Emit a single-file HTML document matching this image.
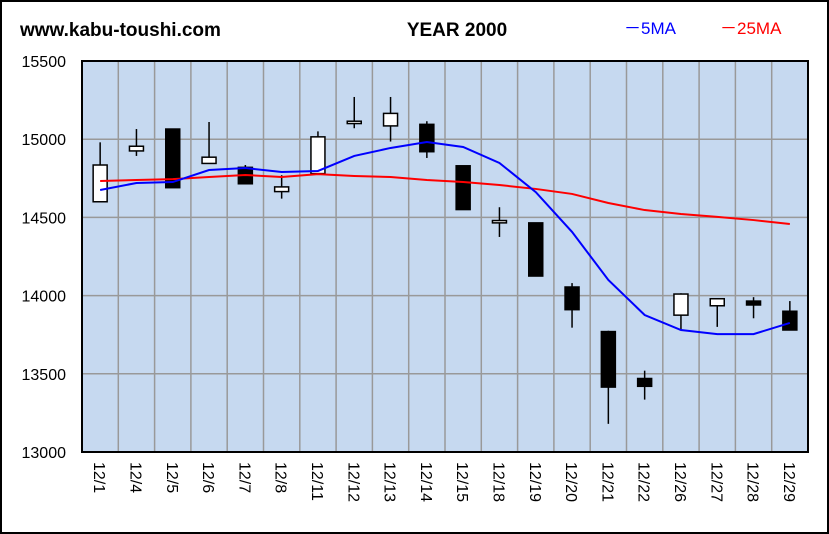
<!DOCTYPE html>
<html><head><meta charset="utf-8"><style>
body{margin:0;background:#fff;}
svg{display:block;font-family:"Liberation Sans",sans-serif;}
</style></head><body>
<svg id="chart" width="829" height="534">
<rect x="1" y="1" width="827" height="532" fill="#fff" stroke="#000" stroke-width="2"/>
<text x="20" y="36" font-size="19" font-weight="bold">www.kabu-toushi.com</text>
<text x="457" y="36" font-size="19" font-weight="bold" text-anchor="middle">YEAR 2000</text>
<text x="624" y="34" font-size="17" fill="#0000ff">－5MA</text>
<text x="720" y="34" font-size="17" fill="#ff0000">－25MA</text>
<rect x="82" y="61" width="726" height="391" fill="#c6d9f0"/>
<g id="grid"></g><g id="candles"></g><g id="lines"></g><g id="axes"></g>
</svg>
<script>
const categories=["12/1","12/4","12/5","12/6","12/7","12/8","12/11","12/12","12/13","12/14","12/15","12/18","12/19","12/20","12/21","12/22","12/26","12/27","12/28","12/29"];
const openV=[14600,14925,15065,14845,14820,14665,14780,15100,15085,15095,14830,14465,14465,14055,13770,13470,13875,13935,13965,13900];
const highV=[14980,15065,15065,15110,14835,14770,15050,15270,15270,15115,14830,14565,14465,14080,13775,13520,14015,13980,13990,13965];
const lowV=[14600,14893,14690,14845,14715,14620,14780,15070,14985,14880,14550,14375,14125,13795,13180,13335,13785,13800,13855,13780];
const closeV=[14835,14955,14690,14885,14715,14695,15015,15115,15165,14920,14550,14480,14125,13910,13415,13420,14010,13980,13940,13780];
const ma5=[14675,14720,14726,14803,14816,14790,14797,14893,14944,14982,14950,14848,14662,14407,14100,13876,13780,13754,13754,13825];
const ma25=[14733,14739,14745,14758,14771,14758,14777,14765,14758,14739,14726,14707,14682,14650,14592,14547,14522,14503,14483,14458];
const yTicks=[13000,13500,14000,14500,15000,15500];
const NS="http://www.w3.org/2000/svg";
const X0=82,X1=808,Y0=452,Y1=61,VMIN=13000,VMAX=15500;
const step=(X1-X0)/categories.length;
function xs(i){return X0+step*(i+0.5);}
function ys(v){return Y0-(v-VMIN)/(VMAX-VMIN)*(Y0-Y1);}
function mk(t,a,p){const e=document.createElementNS(NS,t);for(const k in a)e.setAttribute(k,a[k]);p.appendChild(e);return e;}
const grid=document.getElementById('grid'),cg=document.getElementById('candles'),lg=document.getElementById('lines'),ax=document.getElementById('axes');
yTicks.forEach(v=>{
 const l=mk('line',{x1:X0,x2:X1,y1:ys(v),y2:ys(v),stroke:'#999','stroke-width':1.5},grid);
 
 
 const t=mk('text',{x:66,y:ys(v)+6,'font-size':16,'text-anchor':'end'},ax);
 t.textContent=v;
 
 
});
for(let i=1;i<categories.length;i++){
 const l=mk('line',{x1:X0+step*i,x2:X0+step*i,y1:Y1,y2:Y0,stroke:'#999','stroke-width':1.5},grid);
 
 
}
categories.forEach((c,i)=>{
 const x=xs(i);
 const w=mk('line',{x1:x,x2:x,y1:ys(highV[i]),y2:ys(lowV[i]),stroke:'#000','stroke-width':1.5},cg);
 
 
 const top=ys(Math.max(openV[i],closeV[i])),bot=ys(Math.min(openV[i],closeV[i]));
 const up=closeV[i]>=openV[i];
 const b=mk('rect',{x:x-7,y:top,width:14,height:Math.max(bot-top,2),fill:up?'#fff':'#000',stroke:'#000','stroke-width':1.5},cg);
 
 
 const t=mk('text',{x:0,y:0,'font-size':16,transform:`translate(${x-6},462) rotate(90)`},ax);
 t.textContent=c;
 
 
});
function line(arr,col,name){
 const p=mk('polyline',{points:arr.map((v,i)=>xs(i)+','+ys(v)).join(' '),fill:'none',stroke:col,'stroke-width':2},lg);
 
 
}
line(ma25,'#ff0000','ma25-line');
line(ma5,'#0000ff','ma5-line');
const f=mk('rect',{x:X0,y:Y1,width:X1-X0,height:Y0-Y1,fill:'none',stroke:'#000','stroke-width':2},ax);


</script>
</body></html>
